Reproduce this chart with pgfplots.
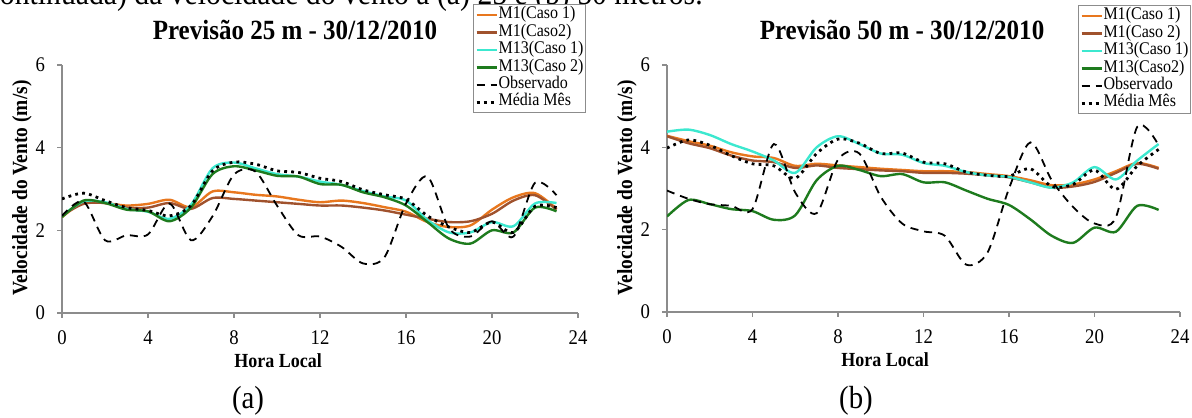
\documentclass[border=0pt]{standalone}
\usepackage{fontspec}
\setmainfont{Liberation Serif}[FakeStretch=0.9]
\usepackage{pgfplots}
\usepackage{pgfplotstable}
\pgfplotsset{compat=1.18}

\definecolor{corange}{HTML}{E8771E}
\definecolor{cbrown}{HTML}{A0522D}
\definecolor{cteal}{HTML}{3CE8CF}
\definecolor{cgreen}{HTML}{1E7B1E}
\definecolor{axgray}{HTML}{8C8C8C}

% h  M1(Caso 1)  M1(Caso 2)  M13(Caso 1)  M13(Caso 2)  Observado  Media
\pgfplotstableread{
h  ma   mb   na   nb   obs  med
0  2.32 2.36 2.35 2.32 2.35 2.76
1  2.68 2.64 2.70 2.72 2.70 2.90
2  2.66 2.66 2.68 2.66 1.76 2.72
3  2.60 2.55 2.52 2.50 1.88 2.55
4  2.64 2.55 2.45 2.46 1.90 2.48
5  2.74 2.66 2.28 2.22 2.65 2.35
6  2.56 2.52 2.62 2.55 1.76 2.60
7  2.94 2.78 3.50 3.36 2.34 3.44
8  2.92 2.76 3.64 3.55 3.35 3.65
9  2.86 2.72 3.50 3.45 3.42 3.60
10 2.82 2.68 3.36 3.32 2.60 3.44
11 2.74 2.64 3.30 3.30 1.88 3.40
12 2.68 2.60 3.18 3.12 1.85 3.26
13 2.72 2.60 3.10 3.10 1.60 3.18
14 2.66 2.55 2.95 2.92 1.20 2.98
15 2.56 2.48 2.82 2.80 1.35 2.86
16 2.45 2.38 2.72 2.60 2.65 2.75
17 2.20 2.28 2.25 2.20 3.30 2.35
18 2.08 2.20 1.95 1.80 2.05 2.08
19 2.12 2.22 1.95 1.68 1.85 1.95
20 2.50 2.40 2.20 2.00 2.22 2.20
21 2.80 2.72 2.10 1.95 1.85 1.95
22 2.90 2.85 2.65 2.55 3.15 2.58
23 2.52 2.50 2.66 2.46 2.85 2.55
}\tabA

\pgfplotstableread{
h  ma   mb   na   nb   obs  med
0  4.28 4.27 4.38 2.32 2.95 3.98
1  4.15 4.10 4.43 2.72 2.75 4.18
2  4.04 3.98 4.30 2.62 2.62 4.05
3  3.88 3.80 4.08 2.50 2.58 3.80
4  3.78 3.68 3.90 2.45 2.50 3.60
5  3.74 3.64 3.68 2.24 4.08 3.55
6  3.55 3.50 3.38 2.35 2.90 3.25
7  3.60 3.56 4.00 3.20 2.40 3.85
8  3.56 3.50 4.27 3.55 3.70 4.20
9  3.52 3.47 4.08 3.45 3.85 4.10
10 3.48 3.44 3.85 3.30 2.80 3.85
11 3.45 3.42 3.82 3.35 2.15 3.86
12 3.42 3.38 3.62 3.15 1.96 3.64
13 3.42 3.38 3.55 3.15 1.85 3.60
14 3.40 3.36 3.40 2.95 1.15 3.40
15 3.35 3.32 3.32 2.75 1.45 3.32
16 3.30 3.27 3.28 2.60 3.00 3.30
17 3.20 3.15 3.15 2.25 4.12 3.48
18 3.08 3.02 3.02 1.85 3.20 3.05
19 3.10 3.05 3.15 1.68 2.55 3.10
20 3.22 3.16 3.52 2.05 2.15 3.45
21 3.42 3.38 3.22 1.95 2.30 2.98
22 3.62 3.60 3.68 2.58 4.50 3.55
23 3.50 3.48 4.08 2.48 4.05 3.95
}\tabB

\pgfplotsset{
  windstyle/.style={
    scale only axis,
    anchor=south west,
    xmin=0, xmax=24, ymin=0, ymax=6,
    xtick={0,4,...,24}, ytick={0,2,4,6},
    axis lines*=left,
    axis line style={axgray, line width=0.6pt},
    tick style={axgray, line width=0.6pt},
    tick align=outside, major tick length=2.5pt,
    ticklabel style={font=\fontsize{10.4}{11}\selectfont, black},
    /pgf/number format/assume math mode=true,
    xticklabel style={yshift=-3pt},
    yticklabel style={xshift=-2.5pt},
    legend cell align=left,
    legend image code/.code={\draw[##1] (0pt,0pt) -- (10pt,0pt);},
    legend style={
      anchor=north east,
      draw=axgray, line width=0.5pt,
      font=\fontsize{8.9}{9}\selectfont,
      inner xsep=0.8pt, inner ysep=1pt,
      row sep=0pt,
      nodes={inner sep=0.2pt, text height=6pt, text depth=2.3pt},
      cells={anchor=west},
    },
  },
  ma/.style={corange, line width=1.2pt, smooth},
  mb/.style={cbrown, line width=1.2pt, smooth},
  na/.style={cteal, line width=1.2pt, smooth},
  nb/.style={cgreen, line width=1.2pt, smooth},
  ob/.style={black, line width=0.9pt, dash pattern=on 4pt off 3pt, smooth},
  md/.style={black, line width=1.4pt, dash pattern=on 1.4pt off 2.1pt, smooth},
}

\begin{document}
\begin{tikzpicture}
\useasboundingbox (0,0) rectangle (596pt,208.5pt);

% caption line (cut at the top of the page)
\node[anchor=base east, inner sep=0pt, font=\fontsize{16.5}{18}\selectfont]
  at (351.5pt,206.3pt) {continuada) da velocidade do vento a (a) 25 e (b) 50 metros.};

\begin{axis}[windstyle,
  at={(31pt,52pt)}, width=258pt, height=124pt,
  legend style={at={(1.0155,1.246)}, fill=white},
]
\addplot[ma] table[x=h,y=ma] {\tabA};
\addlegendentry{M1(Caso 1)}
\addplot[mb] table[x=h,y=mb] {\tabA};
\addlegendentry{M1(Caso2)}
\addplot[na] table[x=h,y=na] {\tabA};
\addlegendentry{M13(Caso 1)}
\addplot[nb] table[x=h,y=nb] {\tabA};
\addlegendentry{M13(Caso 2)}
\addplot[ob] table[x=h,y=obs] {\tabA};
\addlegendentry{Observado}
\addplot[md] table[x=h,y=med] {\tabA};
\addlegendentry{Média Mês}
\end{axis}

\begin{axis}[windstyle,
  at={(333.5pt,52.5pt)}, width=256.5pt, height=123.5pt,
  legend style={at={(1.0214,1.243)}, fill=white},
]
\addplot[ma] table[x=h,y=ma] {\tabB};
\addlegendentry{M1(Caso 1)}
\addplot[mb] table[x=h,y=mb] {\tabB};
\addlegendentry{M1(Caso 2)}
\addplot[na] table[x=h,y=na] {\tabB};
\addlegendentry{M13(Caso 1)}
\addplot[nb] table[x=h,y=nb] {\tabB};
\addlegendentry{M13(Caso2)}
\addplot[ob] table[x=h,y=obs] {\tabB};
\addlegendentry{Observado}
\addplot[md] table[x=h,y=med] {\tabB};
\addlegendentry{Média Mês}
\end{axis}

% titles
\node[font=\bfseries\fontsize{13.9}{16}\selectfont] at (147.5pt,193.5pt) {Previsão 25 m - 30/12/2010};
\node[font=\bfseries\fontsize{13.9}{16}\selectfont] at (451pt,193.5pt) {Previsão 50 m - 30/12/2010};

% axis labels
\node[rotate=90, font=\bfseries\fontsize{10.8}{12}\selectfont] at (11pt,114.5pt) {Velocidade do Vento (m/s)};
\node[rotate=90, font=\bfseries\fontsize{10.8}{12}\selectfont] at (313.5pt,114.5pt) {Velocidade do Vento (m/s)};
\node[font=\bfseries\fontsize{10}{12}\selectfont] at (139pt,28pt) {Hora Local};
\node[font=\bfseries\fontsize{10}{12}\selectfont] at (442.5pt,28.5pt) {Hora Local};

% panel labels
\node[font=\fontsize{16}{18}\selectfont] at (124pt,8pt) {(a)};
\node[font=\fontsize{16}{18}\selectfont] at (428pt,8pt) {(b)};
\end{tikzpicture}
\end{document}
